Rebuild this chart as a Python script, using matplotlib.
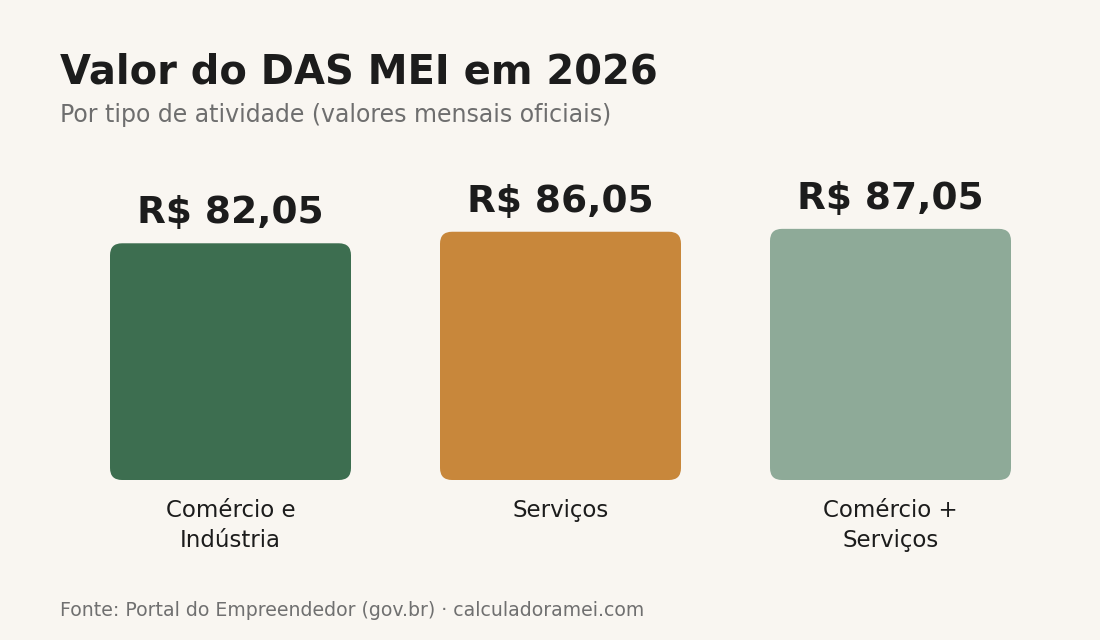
import matplotlib
matplotlib.use("Agg")
import matplotlib.pyplot as plt
from matplotlib.patches import FancyBboxPatch

# ---- data ----
categories = ["Comércio e\nIndústria", "Serviços", "Comércio +\nServiços"]
values = [82.05, 86.05, 87.05]
value_labels = ["R$ 82,05", "R$ 86,05", "R$ 87,05"]
colors = ["#3D6E50", "#C8873B", "#8EAA98"]
title = "Valor do DAS MEI em 2026"
subtitle = "Por tipo de atividade (valores mensais oficiais)"
footer = "Fonte: Portal do Empreendedor (gov.br) · calculadoramei.com"

BG = "#F9F6F1"
W, H = 1100, 640
DPI = 100

plt.rcParams["font.family"] = ["DejaVu Sans"]
fig = plt.figure(figsize=(W / DPI, H / DPI), dpi=DPI, facecolor=BG)

def fx(px):
    return px / W

def fy(py):
    return 1 - py / H

ax_left, ax_right, ax_top, ax_bot = 65.5, 1055.5, 150, 480
ax = fig.add_axes([fx(ax_left), fy(ax_bot), (ax_right - ax_left) / W, (ax_bot - ax_top) / H])
ax.set_facecolor(BG)
ax.set_xlim(-0.5, 2.5)
ax.set_ylim(0, (ax_bot - ax_top) / 2.885)
for s in ax.spines.values():
    s.set_visible(False)
ax.tick_params(left=False, bottom=False, labelleft=False)

x = list(range(len(categories)))
bw = 241 / 330
bars = ax.bar(x, values, width=bw, color=colors)

px_per_x = (ax_right - ax_left) / 3.0
px_per_y = 2.885
radius_px = 12
aspect = px_per_x / px_per_y
for b, c in zip(bars, colors):
    b.set_visible(False)
    p = FancyBboxPatch((b.get_x(), b.get_y()), b.get_width(), b.get_height(),
                       boxstyle=f"round,pad=0,rounding_size={radius_px / px_per_x}",
                       mutation_aspect=aspect, facecolor=c, edgecolor="none")
    ax.add_patch(p)

for xi, v, lab in zip(x, values, value_labels):
    ax.annotate(lab, (xi, v), xytext=(0, 20 * 72 / DPI), textcoords="offset points",
                ha="center", va="baseline", fontsize=27, fontweight="bold", color="#1C1C1C")

ax.set_xticks(x)
ax.set_xticklabels(categories, fontsize=16.5, color="#1C1C1C", linespacing=1.4)
ax.tick_params(axis="x", pad=10)

fig.text(fx(60), fy(83), title, fontsize=28.8, fontweight="bold", color="#1C1C1C",
         ha="left", va="baseline")
fig.text(fx(60), fy(122), subtitle, fontsize=17, color="#6E6E6E", ha="left", va="baseline")
fig.text(fx(60), fy(616), footer, fontsize=13.6, color="#707070", ha="left", va="baseline")

fig.savefig("out.png", dpi=DPI, facecolor=BG)
